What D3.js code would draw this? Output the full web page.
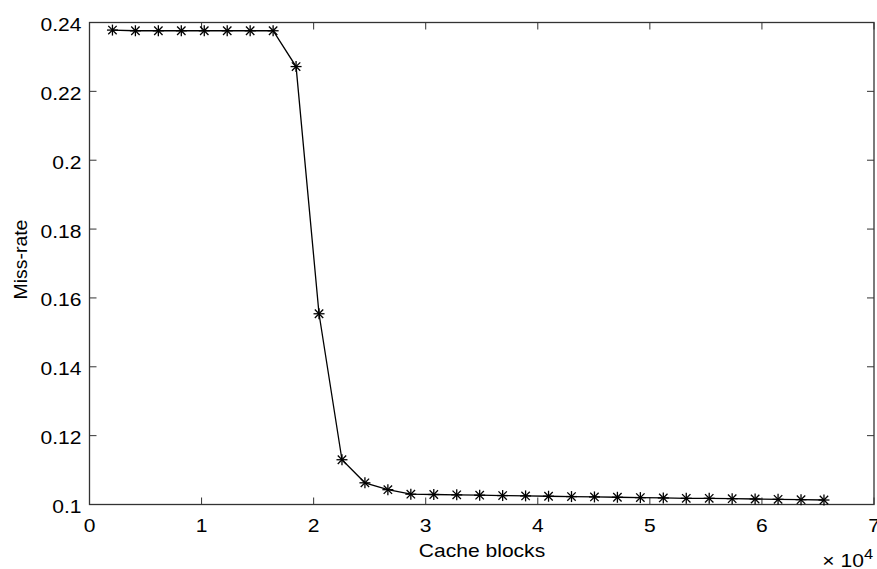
<!DOCTYPE html>
<html><head><meta charset="utf-8">
<script src="https://cdn.jsdelivr.net/npm/d3@7"></script>
<style>body{margin:0;background:#fff}svg{display:block}text{font-family:"Liberation Sans",Arial,sans-serif;fill:#000}</style>
</head><body><svg id="c" width="877" height="569"></svg>
<script>
const cacheBlocks = [2048,4096,6144,8192,10240,12288,14336,16384,18432,20480,22528,24576,26624,28672,30720,32768,34816,36864,38912,40960,43008,45056,47104,49152,51200,53248,55296,57344,59392,61440,63488,65536];
const missRate = [0.2378,0.2376,0.2376,0.2376,0.2376,0.2376,0.2376,0.2376,0.2272,0.1554,0.1130,0.1063,0.1043,0.1030,0.1029,0.1028,0.1027,0.1026,0.1025,0.1024,0.1023,0.1022,0.1021,0.1020,0.1019,0.1018,0.1018,0.1017,0.1016,0.1015,0.1014,0.1013];
const xTicks = [0,1,2,3,4,5,6,7];
const yTicks = [0.1,0.12,0.14,0.16,0.18,0.2,0.22,0.24];

const svg = d3.select("#c");
const L=89.5,R=874,T=22.5,B=504.5;
const x = d3.scaleLinear().domain([0,70000]).range([L,R]);
const y = d3.scaleLinear().domain([0.1,0.24]).range([B,T]);
const fs = 18, tl = 7, axc = "#333", sx = 1.17;
const g = svg.append("g");
function txt(px,py,anchor,s,rot,k){
  return g.append("text").attr("transform",`translate(${px},${py}) rotate(${rot||0}) scale(${k||sx},1)`)
    .attr("text-anchor",anchor).attr("font-size",fs).text(s);
}

xTicks.forEach(t=>{
  const px = x(t*1e4);
  g.append("line").attr("x1",px).attr("x2",px).attr("y1",B).attr("y2",B-tl).attr("stroke",axc);
  g.append("line").attr("x1",px).attr("x2",px).attr("y1",T).attr("y2",T+tl).attr("stroke",axc);
  txt(px,B+27.5,"middle",d3.format("d")(t));
});
yTicks.forEach(t=>{
  const py = y(t);
  g.append("line").attr("x1",L).attr("x2",L+tl).attr("y1",py).attr("y2",py).attr("stroke",axc);
  g.append("line").attr("x1",R).attr("x2",R-tl).attr("y1",py).attr("y2",py).attr("stroke",axc);
  txt(L-8,py+8.5,"end",(t===0.1||t===0.2)?String(t):t.toFixed(2));
});
g.append("rect").attr("x",L).attr("y",T).attr("width",R-L).attr("height",B-T).attr("fill","none").attr("stroke",axc).attr("stroke-width",1.3);

const pts = cacheBlocks.map((c,i)=>[c,missRate[i]]);
g.append("path").datum(pts).attr("fill","none").attr("stroke","#000").attr("stroke-width",1.3)
  .attr("d",d3.line().x(d=>x(d[0])).y(d=>y(d[1])));
const s=5.5, sd=4.2;
pts.forEach(d=>{
  const px=x(d[0]), py=y(d[1]);
  const m = g.append("g").attr("stroke","#000").attr("stroke-width",1.3);
  m.append("line").attr("x1",px-s).attr("x2",px+s).attr("y1",py).attr("y2",py);
  m.append("line").attr("x1",px).attr("x2",px).attr("y1",py-s).attr("y2",py+s);
  m.append("line").attr("x1",px-sd).attr("x2",px+sd).attr("y1",py-sd).attr("y2",py+sd);
  m.append("line").attr("x1",px-sd).attr("x2",px+sd).attr("y1",py+sd).attr("y2",py-sd);
});

txt(482,556.5,"middle","Cache blocks");
txt(27,259.5,"middle","Miss-rate",-90,1.08);
const ex = g.append("text").attr("transform",`translate(873,566.5) scale(${sx},1)`).attr("text-anchor","end").attr("font-size",fs);
ex.append("tspan").text("\u00d7\u2009\u200a10");
ex.append("tspan").attr("font-size",14).attr("dy",-8).text("4");
</script></body></html>
